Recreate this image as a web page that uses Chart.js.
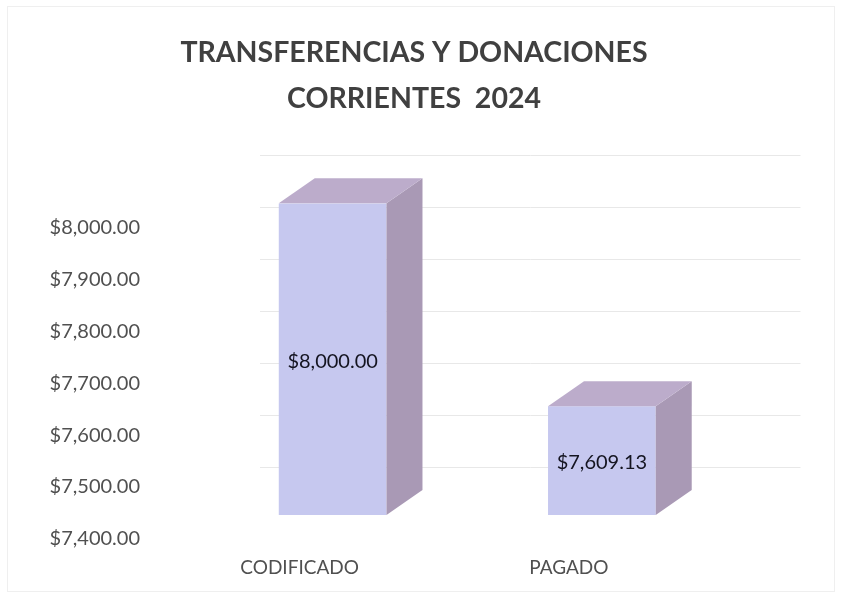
<!DOCTYPE html>
<html>
<head>
<meta charset="utf-8">
<script src="https://cdn.jsdelivr.net/npm/chart.js@4"></script>
<style>
html,body{margin:0;padding:0;background:#fff;}
#wrap{width:842px;height:597px;position:relative;}
</style>
</head>
<body>
<div id="wrap"><canvas id="c" width="842" height="597"></canvas></div>
<script>
const titleLines = ['TRANSFERENCIAS Y DONACIONES', 'CORRIENTES  2024'];
const categories = ['CODIFICADO', 'PAGADO'];
const values = [8000.00, 7609.13];
const yMin = 7400;
const yMax = 8000;
const yStep = 100;

function money(v){
  return '$' + Number(v).toLocaleString('en-US', {minimumFractionDigits:2, maximumFractionDigits:2});
}

const DEPTH = {dx: 36, dy: -25};
const WALL = {dx: 72, dy: -48};

const bar3d = {
  id: 'bar3d',
  beforeDatasetsDraw(chart){
    const ctx = chart.ctx, ys = chart.scales.y, a = chart.chartArea;
    ctx.save();
    ctx.strokeStyle = '#e8e8e8';
    ctx.lineWidth = 1;
    ys.ticks.forEach(t => {
      const py = Math.round(ys.getPixelForValue(t.value) + WALL.dy) + 0.5;
      ctx.beginPath();
      ctx.moveTo(a.left + 62, py);
      ctx.lineTo(a.right + 64, py);
      ctx.stroke();
    });
    ctx.restore();
  },
  afterDatasetsDraw(chart){
    const ctx = chart.ctx;
    const meta = chart.getDatasetMeta(0);
    const a = chart.chartArea;
    ctx.save();
    meta.data.forEach((el, i) => {
      const p = el.getProps(['x','y','base','width'], true);
      const l = p.x - p.width/2, r = p.x + p.width/2, t = p.y, b = Math.min(p.base, a.bottom);
      if (![l, r, t, b].every(Number.isFinite)) return;
      // side face
      ctx.fillStyle = '#a999b5';
      ctx.beginPath();
      ctx.moveTo(r, t); ctx.lineTo(r + DEPTH.dx, t + DEPTH.dy);
      ctx.lineTo(r + DEPTH.dx, b + DEPTH.dy); ctx.lineTo(r, b);
      ctx.closePath(); ctx.fill();
      // top face
      ctx.fillStyle = '#bcaccb';
      ctx.beginPath();
      ctx.moveTo(l, t); ctx.lineTo(l + DEPTH.dx, t + DEPTH.dy);
      ctx.lineTo(r + DEPTH.dx, t + DEPTH.dy); ctx.lineTo(r, t);
      ctx.closePath(); ctx.fill();
      // value label
      ctx.fillStyle = '#141420';
      ctx.font = '20px Lato, "Open Sans", sans-serif';
      ctx.textAlign = 'center';
      ctx.textBaseline = 'middle';
      ctx.fillText(money(values[i]), p.x, (t + b)/2 + 2);
    });
    ctx.restore();
  },
  afterDraw(chart){
    const ctx = chart.ctx;
    ctx.save();
    ctx.strokeStyle = '#efefef';
    ctx.lineWidth = 1;
    ctx.strokeRect(7.5, 6.5, 827, 585);
    ctx.restore();
  }
};

new Chart(document.getElementById('c'), {
  type: 'bar',
  data: {
    labels: categories,
    datasets: [{
      data: values,
      base: yMin,
      backgroundColor: '#c6c8ef',
      borderWidth: 0,
      barPercentage: 0.4,
      categoryPercentage: 1.0
    }]
  },
  options: {
    responsive: false,
    animation: false,
    layout: {padding: {left: 0, right: 14, top: 0, bottom: 18}},
    plugins: {
      legend: {display: false},
      tooltip: {enabled: false},
      title: {
        display: true,
        text: titleLines,
        color: '#404040',
        font: {family: 'Lato, "Open Sans", sans-serif', size: 28.5, weight: 'bold', lineHeight: 1.6},
        padding: {top: 30, bottom: 82}
      }
    },
    scales: {
      x: {
        grid: {display: false, drawTicks: false},
        border: {display: false},
        afterFit(s){ s.height = 64; },
        ticks: {
          color: '#505050',
          font: {family: 'Lato, "Open Sans", sans-serif', size: 19},
          labelOffset: -33,
          padding: 41
        }
      },
      y: {
        min: yMin,
        max: yMax,
        grid: {display: false, drawTicks: false},
        border: {display: false},
        afterFit(s){ s.width = 198; },
        ticks: {
          stepSize: yStep,
          color: '#505050',
          font: {family: 'Lato, "Open Sans", sans-serif', size: 20},
          labelOffset: 24,
          padding: 58,
          callback: (v) => money(v)
        }
      },
      y2: {
        position: 'right',
        display: true,
        grid: {display: false, drawTicks: false},
        border: {display: false},
        ticks: {display: false},
        afterFit(s){ s.width = 91.5; }
      }
    }
  },
  plugins: [bar3d]
});
</script>
</body>
</html>
